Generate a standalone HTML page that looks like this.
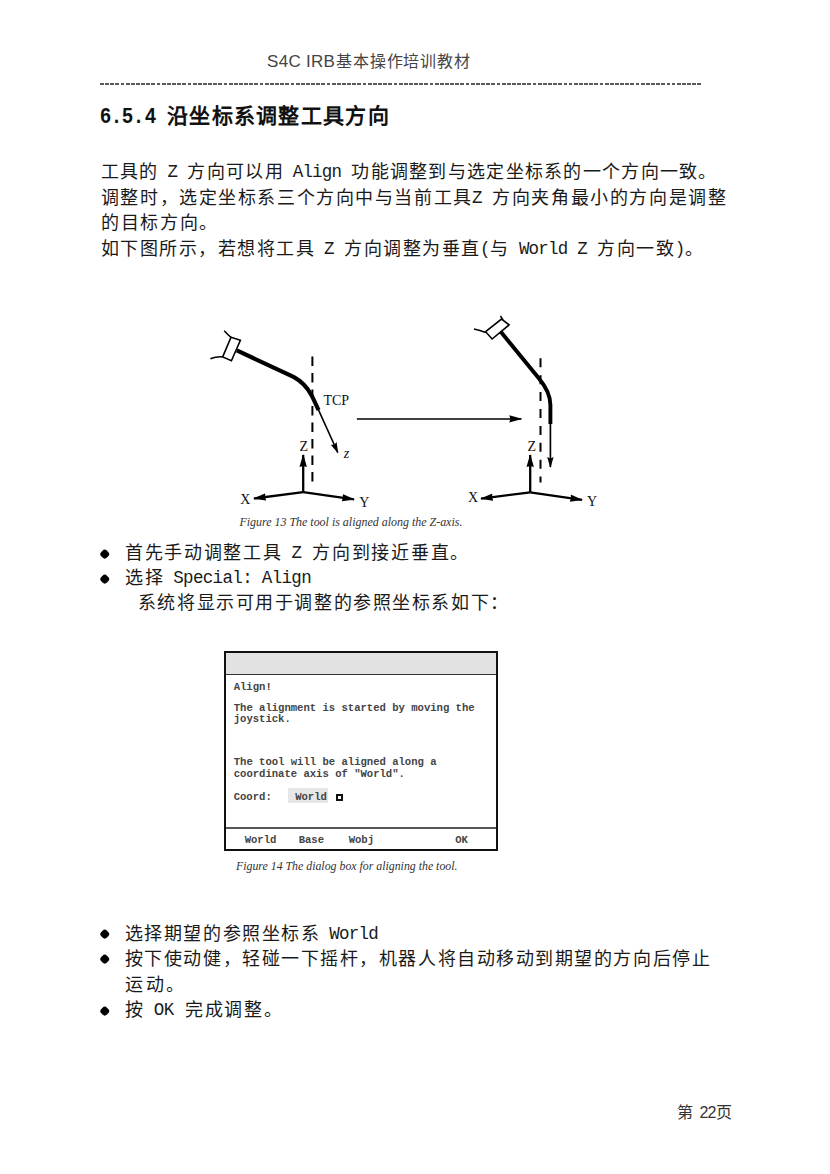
<!DOCTYPE html>
<html lang="zh-CN"><head><meta charset="utf-8"><style>
*{margin:0;padding:0;box-sizing:border-box}
html,body{width:830px;height:1174px;background:#fff;overflow:hidden;position:relative}
body{font-family:"Liberation Sans",sans-serif;color:#222}
.ln{position:absolute;white-space:nowrap;height:22px;line-height:22px}
.ln i{display:inline-block;font-style:normal;text-align:center;vertical-align:top;overflow:visible;height:22px}
.ln .c{width:var(--u)}
.ln .a{width:var(--h);font-family:"Liberation Mono",monospace}
.bd{font-size:18px;color:#1a1a1a;font-weight:500}
.bd .a{font-size:17.5px}
.hd{font-size:21px;font-weight:bold;color:#111;height:28px;line-height:28px}
.hd i{height:28px}
.hd .a{font-size:22.7px;transform:scaleX(0.85);position:relative;top:1px}
.hc{font-size:16px;color:#444;height:20px;line-height:20px}
.hc i{height:20px}
.hdr{position:absolute;white-space:nowrap;font-size:17px;color:#444;line-height:22px;letter-spacing:0.3px}
.dash{position:absolute;height:2px;background:repeating-linear-gradient(90deg,#5a5a5a 0 3.8px,transparent 3.8px 5.15px)}
.bul{position:absolute;width:7.5px;height:7.5px;border-radius:42%;background:#000;transform:rotate(45deg)}
.dt{position:absolute;left:7.5px;font-family:"Liberation Mono",monospace;font-weight:bold;font-size:10.6px;line-height:11.7px;color:#444;white-space:nowrap}
.pn{position:absolute;font-size:16px;color:#333;line-height:22px;white-space:nowrap}
</style></head><body>
<div class="hdr" style="left:267px;top:51px">S4C IRB</div>
<div class="ln hc" style="left:336.0px;top:51.5px;--u:16.750px;--h:8.375px;"><i class="c">基</i><i class="c">本</i><i class="c">操</i><i class="c">作</i><i class="c">培</i><i class="c">训</i><i class="c">教</i><i class="c">材</i></div>
<div class="dash" style="left:100px;top:83px;width:601px"></div>
<div class="ln hd" style="left:98.5px;top:101.5px;--u:22.300px;--h:11.300px;"><i class="a">6</i><i class="a">.</i><i class="a">5</i><i class="a">.</i><i class="a">4</i><i class="a"></i><i class="c">沿</i><i class="c">坐</i><i class="c">标</i><i class="c">系</i><i class="c">调</i><i class="c">整</i><i class="c">工</i><i class="c">具</i><i class="c">方</i><i class="c">向</i></div>
<div class="bul" style="left:101.3px;top:549.8px"></div>
<div class="bul" style="left:101.3px;top:574.8px"></div>
<div class="bul" style="left:101.3px;top:930.0px"></div>
<div class="bul" style="left:101.3px;top:955.4px"></div>
<div class="bul" style="left:101.3px;top:1006.8px"></div>
<div class="ln bd" id="l1" style="left:100.0px;top:161.0px;--u:19.294px;--h:9.647px;"><i class="c">工</i><i class="c">具</i><i class="c">的</i><i class="a"></i><i class="a">Z</i><i class="a"></i><i class="c">方</i><i class="c">向</i><i class="c">可</i><i class="c">以</i><i class="c">用</i><i class="a"></i><i class="a">A</i><i class="a">l</i><i class="a">i</i><i class="a">g</i><i class="a">n</i><i class="a"></i><i class="c">功</i><i class="c">能</i><i class="c">调</i><i class="c">整</i><i class="c">到</i><i class="c">与</i><i class="c">选</i><i class="c">定</i><i class="c">坐</i><i class="c">标</i><i class="c">系</i><i class="c">的</i><i class="c">一</i><i class="c">个</i><i class="c">方</i><i class="c">向</i><i class="c">一</i><i class="c">致</i><i class="c">。</i></div>
<div class="ln bd" id="l2" style="left:100.0px;top:186.7px;--u:19.582px;--h:9.791px;"><i class="c">调</i><i class="c">整</i><i class="c">时</i><i class="c">，</i><i class="c">选</i><i class="c">定</i><i class="c">坐</i><i class="c">标</i><i class="c">系</i><i class="c">三</i><i class="c">个</i><i class="c">方</i><i class="c">向</i><i class="c">中</i><i class="c">与</i><i class="c">当</i><i class="c">前</i><i class="c">工</i><i class="c">具</i><i class="a">Z</i><i class="a"></i><i class="c">方</i><i class="c">向</i><i class="c">夹</i><i class="c">角</i><i class="c">最</i><i class="c">小</i><i class="c">的</i><i class="c">方</i><i class="c">向</i><i class="c">是</i><i class="c">调</i><i class="c">整</i></div>
<div class="ln bd" id="l3" style="left:100.0px;top:212.4px;--u:19.694px;--h:9.847px;"><i class="c">的</i><i class="c">目</i><i class="c">标</i><i class="c">方</i><i class="c">向</i><i class="c">。</i></div>
<div class="ln bd" id="l4" style="left:100.0px;top:238.1px;--u:19.495px;--h:9.747px;"><i class="c">如</i><i class="c">下</i><i class="c">图</i><i class="c">所</i><i class="c">示</i><i class="c">，</i><i class="c">若</i><i class="c">想</i><i class="c">将</i><i class="c">工</i><i class="c">具</i><i class="a"></i><i class="a">Z</i><i class="a"></i><i class="c">方</i><i class="c">向</i><i class="c">调</i><i class="c">整</i><i class="c">为</i><i class="c">垂</i><i class="c">直</i><i class="a">(</i><i class="c">与</i><i class="a"></i><i class="a">W</i><i class="a">o</i><i class="a">r</i><i class="a">l</i><i class="a">d</i><i class="a"></i><i class="a">Z</i><i class="a"></i><i class="c">方</i><i class="c">向</i><i class="c">一</i><i class="c">致</i><i class="a">)</i><i class="c">。</i></div>
<div class="ln bd" id="b1" style="left:124.0px;top:542.0px;--u:19.728px;--h:9.864px;"><i class="c">首</i><i class="c">先</i><i class="c">手</i><i class="c">动</i><i class="c">调</i><i class="c">整</i><i class="c">工</i><i class="c">具</i><i class="a"></i><i class="a">Z</i><i class="a"></i><i class="c">方</i><i class="c">向</i><i class="c">到</i><i class="c">接</i><i class="c">近</i><i class="c">垂</i><i class="c">直</i><i class="c">。</i></div>
<div class="ln bd" id="b2" style="left:124.0px;top:567.0px;--u:19.701px;--h:9.850px;"><i class="c">选</i><i class="c">择</i><i class="a"></i><i class="a">S</i><i class="a">p</i><i class="a">e</i><i class="a">c</i><i class="a">i</i><i class="a">a</i><i class="a">l</i><i class="a">:</i><i class="a"></i><i class="a">A</i><i class="a">l</i><i class="a">i</i><i class="a">g</i><i class="a">n</i></div>
<div class="ln bd" id="b3" style="left:137.0px;top:592.0px;--u:19.589px;--h:9.794px;"><i class="c">系</i><i class="c">统</i><i class="c">将</i><i class="c">显</i><i class="c">示</i><i class="c">可</i><i class="c">用</i><i class="c">于</i><i class="c">调</i><i class="c">整</i><i class="c">的</i><i class="c">参</i><i class="c">照</i><i class="c">坐</i><i class="c">标</i><i class="c">系</i><i class="c">如</i><i class="c">下</i><i class="c">：</i></div>
<div class="ln bd" id="c1" style="left:124.0px;top:923.0px;--u:19.547px;--h:9.774px;"><i class="c">选</i><i class="c">择</i><i class="c">期</i><i class="c">望</i><i class="c">的</i><i class="c">参</i><i class="c">照</i><i class="c">坐</i><i class="c">标</i><i class="c">系</i><i class="a"></i><i class="a">W</i><i class="a">o</i><i class="a">r</i><i class="a">l</i><i class="a">d</i></div>
<div class="ln bd" id="c2" style="left:124.0px;top:948.0px;--u:19.554px;--h:9.777px;"><i class="c">按</i><i class="c">下</i><i class="c">使</i><i class="c">动</i><i class="c">健</i><i class="c">，</i><i class="c">轻</i><i class="c">碰</i><i class="c">一</i><i class="c">下</i><i class="c">摇</i><i class="c">杆</i><i class="c">，</i><i class="c">机</i><i class="c">器</i><i class="c">人</i><i class="c">将</i><i class="c">自</i><i class="c">动</i><i class="c">移</i><i class="c">动</i><i class="c">到</i><i class="c">期</i><i class="c">望</i><i class="c">的</i><i class="c">方</i><i class="c">向</i><i class="c">后</i><i class="c">停</i><i class="c">止</i></div>
<div class="ln bd" id="c3" style="left:124.0px;top:974.0px;--u:20.505px;--h:10.253px;"><i class="c">运</i><i class="c">动</i><i class="c">。</i></div>
<div class="ln bd" id="c4" style="left:124.0px;top:999.0px;--u:19.912px;--h:9.956px;"><i class="c">按</i><i class="a"></i><i class="a">O</i><i class="a">K</i><i class="a"></i><i class="c">完</i><i class="c">成</i><i class="c">调</i><i class="c">整</i><i class="c">。</i></div>
<div class="pn" style="left:677px;top:1102px">第<span style="margin-left:6.5px;letter-spacing:-0.9px">22</span>页</div>
<svg style="position:absolute;left:0;top:0" width="830" height="1174" viewBox="0 0 830 1174">
<defs>
<marker id="ah" markerWidth="13" markerHeight="9" refX="12" refY="4.5" orient="auto" markerUnits="userSpaceOnUse"><path d="M0,0.8 L13,4.5 L0,8.2 L1,4.5 Z" fill="#000"/></marker>
<marker id="ahs" markerWidth="11" markerHeight="7" refX="10" refY="3.5" orient="auto" markerUnits="userSpaceOnUse"><path d="M0,0.3 L11,3.5 L0,6.7 L1.5,3.5 Z" fill="#000"/></marker>
</defs>
<g fill="none" stroke="#000" stroke-linecap="butt">
<!-- LEFT FIGURE -->
<path d="M224.2,330.8 Q228,335 231,337.3" stroke-width="1.5"/>
<path d="M210.4,358.7 Q216,356.5 222.7,356.9" stroke-width="1.5"/>
<path d="M231,337.3 L240.4,340.2 L231.4,360.8 L222.7,356.9 Z" stroke-width="1.6" fill="#fff"/>
<path d="M236.8,350.4 L293.5,376.9 Q305,383 311.8,395.7 L318.6,410.1" stroke-width="4.1"/>
<path d="M318.6,410.1 L337.8,452.5" stroke-width="1.6" marker-end="url(#ahs)"/>
<path d="M312.4,356.6 L312.4,481.6" stroke-width="2" stroke-dasharray="9.5 7"/>
<!-- axes left -->
<path d="M303.2,492.2 L303.2,455" stroke-width="2.3" marker-end="url(#ah)"/>
<path d="M303.2,492.2 L254,498.5" stroke-width="2.3" marker-end="url(#ah)"/>
<path d="M303.2,492.2 L354,499.3" stroke-width="2.3" marker-end="url(#ah)"/>
<!-- horizontal arrow -->
<path d="M356.9,418.9 L521.3,418.9" stroke-width="1.5" marker-end="url(#ah)"/>
<!-- RIGHT FIGURE -->
<path d="M474,328.9 Q480,330 485.6,332.5" stroke-width="1.5"/>
<path d="M500.4,315.8 L503,320" stroke-width="1.5"/>
<path d="M485.6,331.7 L501.5,319.1 L509.1,324.9 L492.1,339 Z" stroke-width="1.6" fill="#fff"/>
<path d="M500.6,331.6 L539,378.4 Q550.4,392 550.4,405 L550.4,424" stroke-width="3.9"/>
<path d="M550.4,424 L550.4,467" stroke-width="1.7" marker-end="url(#ahs)"/>
<path d="M540.5,358.3 L540.5,482.4" stroke-width="2" stroke-dasharray="9 7.9"/>
<path d="M530.2,492.3 L530.2,455" stroke-width="2.3" marker-end="url(#ah)"/>
<path d="M530.2,492.3 L481,498.6" stroke-width="2.3" marker-end="url(#ah)"/>
<path d="M530.2,492.3 L582,499.9" stroke-width="2.3" marker-end="url(#ah)"/>
</g>
<g font-family="Liberation Serif" font-size="14" fill="#111">
<text x="323.4" y="405">TCP</text>
<text x="299.5" y="450.6">Z</text>
<text x="343.8" y="458.3" font-style="italic">z</text>
<text x="240.3" y="503.6">X</text>
<text x="359.2" y="507.4">Y</text>
<text x="527.5" y="450.6">Z</text>
<text x="468" y="502.4">X</text>
<text x="587" y="506">Y</text>
</g>
<text x="239.4" y="526" textLength="223" lengthAdjust="spacingAndGlyphs" font-family="Liberation Serif" font-size="12" font-style="italic" fill="#333">Figure 13  The tool is aligned along the Z-axis.</text>
<text x="236" y="870.3" textLength="221.5" lengthAdjust="spacingAndGlyphs" font-family="Liberation Serif" font-size="12" font-style="italic" fill="#333">Figure 14  The dialog box for aligning the tool.</text>
</svg>
<div style="position:absolute;left:224px;top:650.5px;width:274px;height:200.6px;border:2.2px solid #111;background:#fff">
 <div style="position:absolute;left:0;top:0;right:0;height:22.7px;background:#e2e2e2;border-bottom:1.8px solid #333"></div>
 <div style="position:absolute;left:62px;top:135.2px;width:40px;height:15.4px;background:#e6e6e6"></div>
 <div style="position:absolute;left:109.5px;top:141.2px;width:7px;height:7px;border:2px solid #111;background:#fff"></div>
 <div style="position:absolute;left:0;right:0;top:174.3px;height:1.8px;background:#555"></div>
</div>
<svg style="position:absolute;left:0;top:0" width="830" height="1174" viewBox="0 0 830 1174">
<g font-family="Liberation Mono" font-weight="bold" font-size="10.6" fill="#444">
<text x="233.7" y="690.4" textLength="38.04">Align!</text>
<text x="233.7" y="711.4" textLength="240.92">The alignment is started by moving the</text>
<text x="233.7" y="721.9" textLength="57.06">joystick.</text>
<text x="233.7" y="765.3" textLength="202.88">The tool will be aligned along a</text>
<text x="233.7" y="776.8" textLength="171.18">coordinate axis of &quot;World&quot;.</text>
<text x="233.7" y="800.4" textLength="38.04">Coord:</text>
<text x="295.2" y="800.4" textLength="31.70">World</text>
<text x="244.7" y="842.9" textLength="31.70">World</text>
<text x="298.7" y="842.9" textLength="25.36">Base</text>
<text x="348.7" y="842.9" textLength="25.36">Wobj</text>
<text x="455.2" y="842.9" textLength="12.68">OK</text>
</g>
</svg>
</body></html>
